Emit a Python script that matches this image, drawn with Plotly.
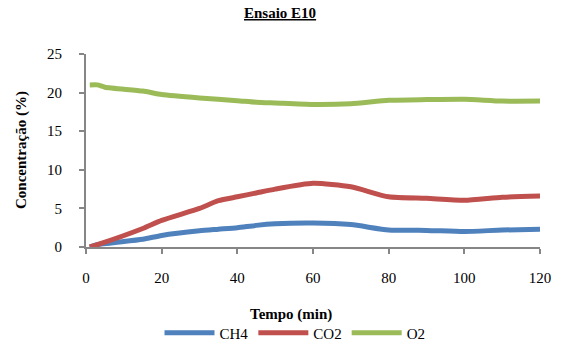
import plotly.graph_objects as go

tempo_o2 = [1, 3, 5, 15, 20, 30, 40, 45, 50, 60, 70, 80, 90, 100, 110, 120]
o2 = [21.0, 21.0, 20.7, 20.2, 19.75, 19.3, 18.95, 18.75, 18.65, 18.45, 18.55, 19.0, 19.1, 19.15, 18.9, 18.9]

tempo = [1, 3, 15, 20, 30, 35, 40, 45, 50, 60, 70, 80, 90, 100, 110, 120]
ch4 = [0.0, 0.3, 1.0, 1.5, 2.1, 2.3, 2.5, 2.8, 3.0, 3.1, 2.9, 2.2, 2.15, 2.0, 2.2, 2.3]
co2 = [0.0, 0.3, 2.4, 3.45, 5.0, 6.0, 6.5, 7.0, 7.5, 8.25, 7.8, 6.5, 6.3, 6.05, 6.45, 6.6]

x_ticks = [0, 20, 40, 60, 80, 100, 120]
y_ticks = [0, 5, 10, 15, 20, 25]

font = "Liberation Serif"

L, R, T, B = 86, 540, 54, 247
W, H = R - L, B - T

fig = go.Figure()
for name, xs, ys, col in [("CH4", tempo, ch4, "#4F81BD"),
                          ("CO2", tempo, co2, "#C0504D"),
                          ("O2", tempo_o2, o2, "#9BBB59")]:
    fig.add_trace(go.Scatter(x=xs, y=ys, name=name, mode="lines",
                             line=dict(color=col, width=5, shape="spline", smoothing=0.6)))

fig.update_layout(
    width=564, height=349,
    margin=dict(l=L, r=564 - R, t=T, b=349 - B, autoexpand=False),
    paper_bgcolor="white", plot_bgcolor="white",
    font=dict(family=font, size=14, color="black"),
    showlegend=True,
    legend=dict(orientation="h", x=(295 - L) / W, xanchor="center",
                y=(B - 333) / H, yanchor="middle", itemwidth=50,
                font=dict(family=font, size=15), tracegroupgap=0),
)
fig.add_annotation(text="<b><u>Ensaio E10</u></b>", xref="paper", yref="paper",
                   x=(280 - L) / W, y=(B - 13) / H, showarrow=False,
                   font=dict(size=15, family=font), xanchor="center", yanchor="middle")
fig.add_annotation(text="<b>Tempo (min)</b>", xref="paper", yref="paper",
                   x=(291 - L) / W, y=(B - 314) / H, showarrow=False,
                   font=dict(size=15, family=font), xanchor="center", yanchor="middle")
fig.add_annotation(text="<b>Concentração (%)</b>", xref="paper", yref="paper",
                   x=(21 - L) / W, y=(B - 150) / H, showarrow=False, textangle=-90,
                   font=dict(size=15, family=font), xanchor="center", yanchor="middle")

fig.update_xaxes(range=[0, 120], tickvals=x_ticks, ticktext=[str(v) for v in x_ticks],
                 showline=True, linecolor="#868686", linewidth=2, ticks="outside",
                 ticklen=5, tickcolor="#868686", tickwidth=1.5, showgrid=False, zeroline=False,
                 automargin=False, ticklabelstandoff=11, tickfont=dict(size=15, family=font))
fig.update_yaxes(range=[0, 25], tickvals=y_ticks, ticktext=[str(v) for v in y_ticks],
                 showline=True, linecolor="#868686", linewidth=2, ticks="outside",
                 ticklen=5, tickcolor="#868686", tickwidth=1.5, showgrid=False, zeroline=False,
                 automargin=False, ticklabelstandoff=14, tickfont=dict(size=15, family=font))

fig.write_html("out.html", config={"displayModeBar": False},
               post_script="document.body.style.margin='0';")
